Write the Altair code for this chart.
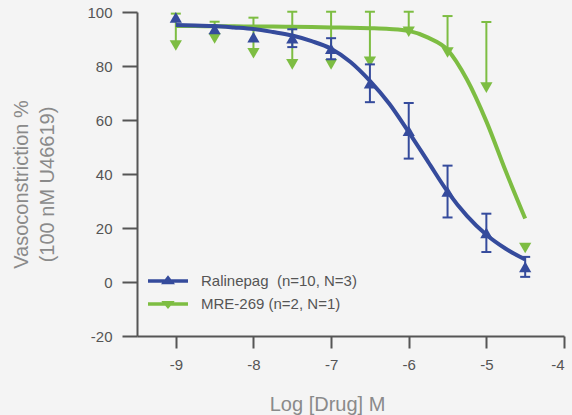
import altair as alt
import pandas as pd

RAL = "Ralinepag\u00a0 (n=10, N=3)"
MRE = "MRE-269 (n=2, N=1)"
drugs = [RAL, MRE]
colors = ["#354B9C", "#7DBD42"]

log_dose = [-9.0, -8.5, -8.0, -7.5, -7.0, -6.5, -6.0, -5.5, -5.0, -4.5]
ral_mean = [98.0, 93.7, 90.7, 90.3, 86.4, 73.6, 56.0, 33.5, 18.2, 5.6]
ral_sem = [0, 0, 0, 3.3, 3.9, 7.0, 10.3, 9.6, 7.1, 3.7]
mre_mean = [87.6, 90.2, 84.7, 80.6, 80.6, 81.6, 92.7, 85.0, 72.0, 12.6]
mre_err = [11.8, 6.2, 13.2, 19.5, 19.5, 18.5, 7.4, 13.5, 24.3, 0]

curve_x = [-9.0, -8.75, -8.5, -8.25, -8.0, -7.75, -7.5, -7.25, -7.0, -6.75,
           -6.5, -6.25, -6.0, -5.75, -5.5, -5.25, -5.0, -4.75, -4.5]
ral_curve = [95.2, 95.0, 94.8, 94.3, 93.7, 92.6, 91.3, 89.2, 86.4, 81.5,
             74.5, 66.0, 55.5, 44.5, 33.5, 24.5, 17.5, 12.3, 8.3]
mre_curve = [94.8, 94.8, 94.7, 94.7, 94.6, 94.6, 94.5, 94.4, 94.3, 94.2,
             94.0, 93.7, 93.0, 90.5, 86.0, 75.0, 59.5, 41.0, 23.5]

x_ticks = [-9, -8, -7, -6, -5, -4]
y_ticks = [-20, 0, 20, 40, 60, 80, 100]

# legend symbols: line with a triangle (unit = 10 px at size 400)
sym_up = "M-2,-0.17L2,-0.17L2,0.17L-2,0.17Z M-0.7,0.33L0,-0.57L0.7,0.33Z"
sym_down = "M-2,-0.17L2,-0.17L2,0.17L-2,0.17Z M-0.67,-0.3L0.67,-0.3L0,0.5Z"

n = len(log_dose)
pts = pd.DataFrame({
    "x": log_dose * 2,
    "y": ral_mean + mre_mean,
    "lo": [m - e for m, e in zip(ral_mean, ral_sem)] + mre_mean,
    "hi": [m + e for m, e in zip(ral_mean, ral_sem)] + [m + e for m, e in zip(mre_mean, mre_err)],
    "err": ral_sem + mre_err,
    "drug": [RAL] * n + [MRE] * n,
})
m = len(curve_x)
curves = pd.DataFrame({
    "x": curve_x * 2,
    "y": ral_curve + mre_curve,
    "drug": [RAL] * m + [MRE] * m,
})
legend_df = pd.DataFrame({"drug": drugs})

FONT = "Liberation Sans"
xscale = alt.Scale(domain=[-9.5, -4], nice=False, zero=False)
yscale = alt.Scale(domain=[-20, 100], nice=False, zero=False)
cscale = alt.Scale(domain=drugs, range=colors)

X = alt.X("x:Q", scale=xscale, axis=alt.Axis(
    values=x_ticks, tickSize=12, labelPadding=9, labelExpr="'' + datum.value",
    title="Log [Drug] M", titleX=190, titleY=74, titleAlign="center",
    titleBaseline="alphabetic", grid=False))
Y = alt.Y("y:Q", scale=yscale, axis=alt.Axis(
    values=y_ticks, tickSize=15, labelPadding=10, labelExpr="'' + datum.value",
    title=["Vasoconstriction %", "(100 nM U46619)"], titleX=-116, titleY=172,
    titleAngle=270, titleAlign="center", titleBaseline="middle",
    titleLineHeight=26, grid=False))


def series(name, shape):
    col = alt.value(colors[drugs.index(name)])
    sub_c = alt.Chart(curves).transform_filter(alt.datum.drug == name)
    sub_p = alt.Chart(pts).transform_filter(alt.datum.drug == name)
    line = sub_c.mark_line(strokeWidth=4, interpolate="monotone").encode(x=X, y=Y, color=col)
    bars = sub_p.transform_filter(alt.datum.err > 0)
    rules = bars.mark_rule(strokeWidth=2).encode(
        x=X, y=alt.Y("lo:Q", scale=yscale), y2="hi:Q", color=col)
    caps_hi = bars.mark_tick(orient="horizontal", size=10, thickness=2, opacity=1).encode(
        x=X, y=alt.Y("hi:Q", scale=yscale), color=col)
    layers = [line, rules, caps_hi]
    if name == RAL:
        caps_lo = bars.mark_tick(orient="horizontal", size=10, thickness=2, opacity=1).encode(
            x=X, y=alt.Y("lo:Q", scale=yscale), color=col)
        layers.append(caps_lo)
    marks = sub_p.mark_point(filled=True, opacity=1, size=150, shape=shape).encode(
        x=X, y=Y, color=col)
    layers.append(marks)
    return layers


leg = alt.Legend(orient="none", legendX=21, legendY=259, title=None,
                 symbolSize=400, symbolStrokeWidth=0, symbolOpacity=1,
                 labelOffset=23, rowPadding=5, padding=0,
                 labelFontSize=15, labelColor="#555555", labelFont=FONT)
dummy = alt.Chart(legend_df).transform_filter("false").mark_point(
    filled=True, opacity=1).encode(
    color=alt.Color("drug:N", scale=cscale, legend=leg),
    shape=alt.Shape("drug:N", scale=alt.Scale(domain=drugs, range=[sym_up, sym_down]), legend=leg),
)

chart = alt.layer(
    *series(MRE, "triangle-down"), *series(RAL, "triangle-up"), dummy
).properties(
    width=427, height=324,
    autosize=alt.AutoSizeParams(type="none"),
    padding={"left": 137, "top": 12, "right": 8, "bottom": 79},
    background="#f4f4f4",
).configure_view(stroke=None).configure_axis(
    domainColor="#555555", domainWidth=2, tickColor="#555555", tickWidth=2,
    labelColor="#555555", labelFontSize=15, labelFont=FONT,
    titleColor="#8a8a8a", titleFontSize=20, titleFont=FONT, titleFontWeight="normal",
)

chart.save("out.html", embed_options={"renderer": "svg", "actions": False})
